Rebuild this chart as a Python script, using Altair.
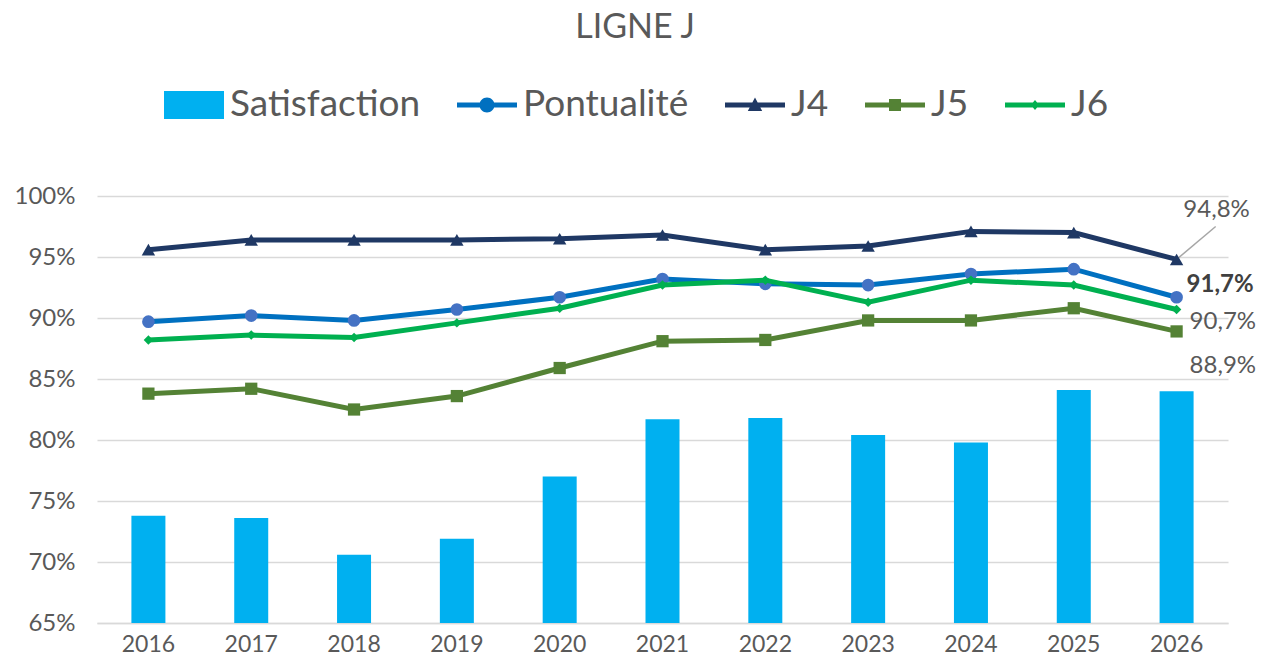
import altair as alt
import pandas as pd

years = [2016, 2017, 2018, 2019, 2020, 2021, 2022, 2023, 2024, 2025, 2026]
satisfaction = [73.8, 73.6, 70.6, 71.9, 77.0, 81.7, 81.8, 80.4, 79.8, 84.1, 84.0]
pontualite = [89.7, 90.2, 89.8, 90.7, 91.7, 93.2, 92.8, 92.7, 93.6, 94.0, 91.7]
j4 = [95.6, 96.4, 96.4, 96.4, 96.5, 96.8, 95.6, 95.9, 97.1, 97.0, 94.8]
j5 = [83.8, 84.2, 82.5, 83.6, 85.9, 88.1, 88.2, 89.8, 89.8, 90.8, 88.9]
j6 = [88.2, 88.6, 88.4, 89.6, 90.8, 92.7, 93.1, 91.3, 93.1, 92.7, 90.7]

series_names = ["Satisfaction", "Pontualité", "J4", "J5", "J6"]
series_values = [satisfaction, pontualite, j4, j5, j6]
colors = ["#00B0F0", "#0070C0", "#1F3864", "#548235", "#00B050"]
marker_colors = {"Pontualité": "#4472C4", "J4": "#1F3864", "J5": "#548235", "J6": "#00B050"}
marker_shapes = {"Pontualité": "circle", "J4": "triangle-up", "J5": "square", "J6": "diamond"}
marker_sizes = {"Pontualité": 160, "J4": 180, "J5": 150, "J6": 90}

# legend symbols: bar swatch, and line-with-marker swatches
bar = "M-1,-0.085 L1,-0.085 L1,0.085 L-1,0.085 Z "
legend_paths = [
    "M-1,-0.47 L1,-0.47 L1,0.47 L-1,0.47 Z",
    bar + "M-0.25,0 A0.25,0.25 0 1,1 0.25,0 A0.25,0.25 0 1,1 -0.25,0 Z",
    bar + "M0,-0.25 L0.24,0.2 L-0.24,0.2 Z",
    bar + "M-0.2,-0.2 L0.2,-0.2 L0.2,0.2 L-0.2,0.2 Z",
    bar + "M0,-0.17 L0.14,0 L0,0.17 L-0.14,0 Z",
]

def fmt(v):
    return f"{v:.1f}%".replace(".", ",")

rows = []
for name, vals in zip(series_names, series_values):
    for yr, v in zip(years, vals):
        rows.append({"year": str(yr), "series": name, "value": v, "label": fmt(v)})
df = pd.DataFrame(rows)

year_order = [str(y) for y in years]
FONT = "Lato"
GREY = "#595959"

x_enc = alt.X(
    "year:N", sort=year_order, title=None,
    scale=alt.Scale(paddingInner=0, paddingOuter=0),
    axis=alt.Axis(labelAngle=0, ticks=False, domain=True, domainColor="#D9D9D9",
                  domainWidth=1.5, labelPadding=10, labelFontSize=23,
                  labelColor=GREY, labelFont=FONT, grid=False),
)
y_enc = alt.Y(
    "value:Q", title=None,
    scale=alt.Scale(domain=[65, 100], nice=False, zero=False),
    axis=alt.Axis(values=[65, 70, 75, 80, 85, 90, 95, 100],
                  labelExpr="datum.value + '%'", grid=True, gridColor="#D9D9D9",
                  gridWidth=1.5, domain=False, ticks=False, labelPadding=22,
                  labelFontSize=24, labelColor=GREY, labelFont=FONT),
)

base = alt.Chart(df)

bars = base.transform_filter(alt.datum.series == "Satisfaction").mark_bar(
    size=34, color="#00B0F0"
).encode(x=x_enc, y=y_enc, y2=alt.datum(65))

# invisible layer that carries the legend
legend_def = alt.Legend(
    title=None, orient="none", legendX=67, legendY=-121, direction="horizontal",
    columns=5, symbolSize=3600, symbolOpacity=1, symbolStrokeWidth=0,
    labelFont=FONT, labelFontSize=37, labelColor=GREY, labelOffset=6,
    columnPadding=36, labelLimit=0, padding=0,
)
legend_layer = base.transform_filter(alt.datum.year == "2016").mark_point(
    filled=True, opacity=0
).encode(
    x=alt.X("year:N", sort=year_order),
    y="value:Q",
    color=alt.Color("series:N", scale=alt.Scale(domain=series_names, range=colors),
                    legend=legend_def),
    shape=alt.Shape("series:N", scale=alt.Scale(domain=series_names, range=legend_paths),
                    legend=legend_def),
)

# leader line for the J4 2026 label
leader_df = pd.DataFrame({"year": ["2026"], "value": [j4[-1]], "end": [97.5]})
leader = alt.Chart(leader_df).mark_rule(color="#A6A6A6", strokeWidth=1.5).encode(
    x=alt.X("year:N", sort=year_order, bandPosition=0.5),
    x2=alt.X2("year", bandPosition=0.88),
    y="value:Q", y2="end:Q",
)

layers = [bars, legend_layer, leader]
for name, col in zip(series_names[1:], colors[1:]):
    sub = base.transform_filter(alt.datum.series == name)
    layers.append(sub.mark_line(color=col, strokeWidth=5).encode(
        x=alt.X("year:N", sort=year_order), y="value:Q"))
    layers.append(sub.mark_point(filled=True, opacity=1, color=marker_colors[name],
                                 shape=marker_shapes[name], size=marker_sizes[name]).encode(
        x=alt.X("year:N", sort=year_order), y="value:Q"))

last = base.transform_filter(alt.datum.year == "2026")
label_specs = [
    ("J4", 40, -49, "center", "normal", GREY),
    ("Pontualité", 10, -12, "left", "bold", "#404040"),
    ("J6", 13, 13, "left", "normal", GREY),
    ("J5", 13, 35, "left", "normal", GREY),
]
for name, dx, dy, align, weight, col in label_specs:
    layers.append(last.transform_filter(alt.datum.series == name).mark_text(
        dx=dx, dy=dy, align=align, baseline="middle", fontWeight=weight,
        fontSize=24, font=FONT, color=col
    ).encode(x=alt.X("year:N", sort=year_order), y="value:Q", text="label:N"))

chart = alt.layer(*layers).properties(
    width=1131, height=427,
    autosize=alt.AutoSizeParams(type="none"),
    padding={"left": 89, "top": 188, "right": 30, "bottom": 36},
    title=alt.TitleParams("LIGNE J", font=FONT, fontSize=34, fontWeight="normal",
                          color=GREY, anchor="middle", frame="bounds", offset=30),
).configure_view(stroke=None)

chart.save("out.html", embed_options={"renderer": "svg", "actions": False})
